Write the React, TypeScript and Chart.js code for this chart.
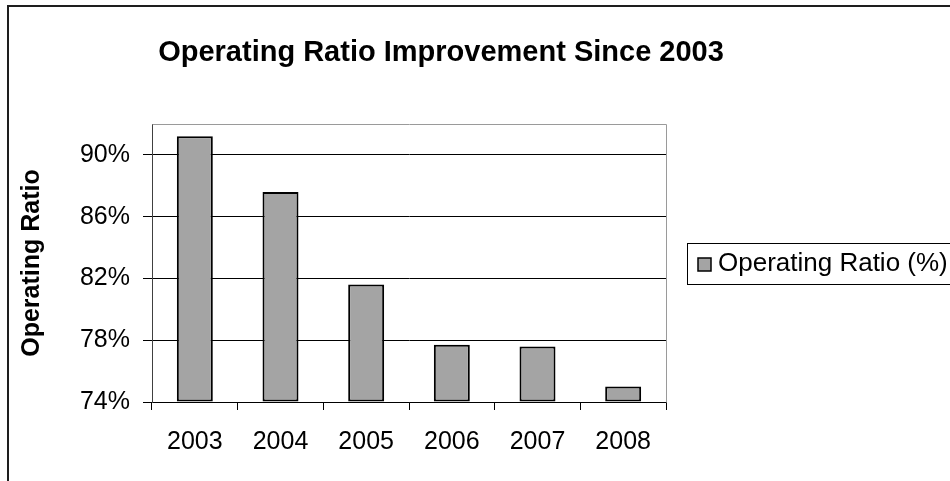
import { useEffect, useRef } from "react";
import { Chart, registerables } from "chart.js";

Chart.register(...registerables);

// Data
const years = ["2003", "2004", "2005", "2006", "2007", "2008"];
const operatingRatio = [91.2, 87.6, 81.6, 77.7, 77.6, 75.0];
const seriesName = "Operating Ratio (%)";
const chartTitle = "Operating Ratio Improvement Since 2003";
const axisTitle = "Operating Ratio";
const yMin = 74;
const yMax = 92;
const yTickValues = [74, 78, 82, 86, 90];

const FONT = '"Liberation Sans", Arial, Helvetica, sans-serif';
const WIDTH = 950;
const HEIGHT = 481;

// Draws the outer frame, the heading, the plot-area border and the boxed legend
const decorations = {
  id: "decorations",
  beforeDraw(chart: any) {
    const { ctx } = chart;
    ctx.save();
    ctx.fillStyle = "#ffffff";
    ctx.fillRect(0, 0, chart.width, chart.height);
    ctx.fillStyle = "#1e1e1e";
    ctx.fillRect(7, 5, 2, chart.height);
    ctx.fillRect(7, 5, chart.width, 2);
    ctx.restore();
  },
  afterDraw(chart: any) {
    const { ctx, chartArea } = chart;
    ctx.save();
    // plot area border (top and right)
    ctx.strokeStyle = "#9a9a9a";
    ctx.lineWidth = 1;
    ctx.beginPath();
    ctx.moveTo(Math.round(chartArea.left) + 0.5, Math.round(chartArea.top) + 0.5);
    ctx.lineTo(Math.round(chartArea.right) + 0.5, Math.round(chartArea.top) + 0.5);
    ctx.lineTo(Math.round(chartArea.right) + 0.5, Math.round(chartArea.bottom) + 0.5);
    ctx.stroke();

    // heading
    ctx.fillStyle = "#000000";
    ctx.font = `bold 29px ${FONT}`;
    ctx.textAlign = "center";
    ctx.textBaseline = "middle";
    ctx.fillText(chartTitle, 441, 53);

    // legend: outlined box with a swatch per dataset
    const legendLeft = Math.round(chartArea.right) + 21;
    const midY = (chartArea.top + chartArea.bottom) / 2 + 1;
    ctx.strokeStyle = "#000000";
    ctx.lineWidth = 1;
    ctx.strokeRect(legendLeft + 0.5, Math.round(midY - 21) + 0.5, chart.width, 41);
    chart.data.datasets.forEach((ds: any, i: number) => {
      const y = midY + i * 30;
      const sx = legendLeft + 11;
      ctx.fillStyle = ds.backgroundColor;
      ctx.fillRect(sx, Math.round(y - 6), 13, 13);
      ctx.strokeStyle = ds.borderColor;
      ctx.lineWidth = 1.5;
      ctx.strokeRect(sx, Math.round(y - 6), 13, 13);
      ctx.fillStyle = "#000000";
      ctx.font = `26px ${FONT}`;
      ctx.textAlign = "left";
      ctx.textBaseline = "middle";
      ctx.fillText(ds.label, legendLeft + 31, y);
    });
    ctx.restore();
  },
};

export default function App() {
  const canvasRef = useRef<HTMLCanvasElement | null>(null);

  useEffect(() => {
    const canvas = canvasRef.current;
    if (!canvas) return;
    const chart = new Chart(canvas, {
      type: "bar",
      data: {
        labels: years,
        datasets: [
          {
            label: seriesName,
            data: operatingRatio,
            backgroundColor: "#a4a4a4",
            borderColor: "#000000",
            borderWidth: 2,
            borderSkipped: false,
            base: yMin,
            categoryPercentage: 1,
            barPercentage: 0.42,
          },
        ],
      },
      options: {
        responsive: false,
        animation: false,
        layout: { padding: { top: 124, right: WIDTH - 666, bottom: 0, left: 0 } },
        plugins: {
          title: { display: false },
          tooltip: { enabled: false },
          legend: { display: false },
        },
        scales: {
          x: {
            type: "category",
            offset: true,
            grid: {
              offset: true,
              display: true,
              drawOnChartArea: false,
              drawTicks: true,
              tickLength: 8,
              color: "#000000",
              lineWidth: 1,
            },
            border: { display: true, color: "#000000", width: 1 },
            ticks: {
              color: "#000000",
              padding: 17,
              font: { family: FONT, size: 25 },
              maxRotation: 0,
            },
            afterFit(scale: any) {
              scale.height = HEIGHT - 402;
            },
          },
          y: {
            type: "linear",
            min: yMin,
            max: yMax,
            afterBuildTicks(scale: any) {
              scale.ticks = yTickValues.map((value) => ({ value }));
            },
            ticks: {
              color: "#000000",
              padding: 13,
              font: { family: FONT, size: 25 },
              callback: (v: any) => `${v}%`,
            },
            grid: {
              color: "#000000",
              lineWidth: 1,
              drawTicks: true,
              tickLength: 9,
            },
            border: { display: true, color: "#404040", width: 1 },
            title: {
              display: true,
              text: axisTitle,
              color: "#000000",
              font: { family: FONT, size: 25, weight: "bold" },
              padding: { top: 17, bottom: 0 },
            },
            afterFit(scale: any) {
              scale.width = 152;
            },
          },
        },
      },
      plugins: [decorations],
    } as any);
    return () => chart.destroy();
  }, []);

  return (
    <div style={{ position: "absolute", left: 0, top: 0, width: WIDTH, height: HEIGHT }}>
      <canvas ref={canvasRef} width={WIDTH} height={HEIGHT} style={{ display: "block" }} />
    </div>
  );
}
